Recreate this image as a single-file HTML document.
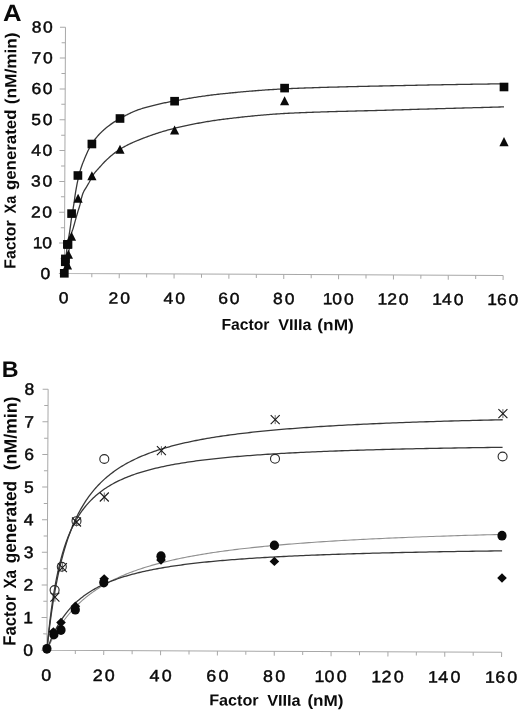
<!DOCTYPE html>
<html><head><meta charset="utf-8"><title>Figure</title>
<style>html,body{margin:0;padding:0;background:#fff;}svg{display:block;filter:blur(0.35px);}</style>
</head><body>
<svg width="520" height="710" viewBox="0 0 520 710" font-family="'Liberation Sans', sans-serif" text-rendering="geometricPrecision" fill="#0a0a0a">
<rect width="520" height="710" fill="#fff"/>
<g transform="rotate(0.25 64.4 273.9)">
<g stroke="#a8a8a8" stroke-width="1" fill="none">
<path d="M64.40 27.26 L64.40 273.50 L503.12 273.50"/>
<path d="M58.90 273.50 L64.40 273.50"/>
<path d="M58.90 243.07 L64.40 243.07"/>
<path d="M58.90 212.24 L64.40 212.24"/>
<path d="M58.90 181.41 L64.40 181.41"/>
<path d="M58.90 150.58 L64.40 150.58"/>
<path d="M58.90 119.75 L64.40 119.75"/>
<path d="M58.90 88.92 L64.40 88.92"/>
<path d="M58.90 58.09 L64.40 58.09"/>
<path d="M58.90 27.26 L64.40 27.26"/>
<path d="M60.60 258.48 L64.40 258.48"/>
<path d="M60.60 227.65 L64.40 227.65"/>
<path d="M60.60 196.82 L64.40 196.82"/>
<path d="M60.60 165.99 L64.40 165.99"/>
<path d="M60.60 135.16 L64.40 135.16"/>
<path d="M60.60 104.33 L64.40 104.33"/>
<path d="M60.60 73.50 L64.40 73.50"/>
<path d="M60.60 42.67 L64.40 42.67"/>
<path d="M91.82 273.50 L91.82 277.10"/>
<path d="M119.24 273.50 L119.24 278.10"/>
<path d="M146.66 273.50 L146.66 277.10"/>
<path d="M174.08 273.50 L174.08 278.10"/>
<path d="M201.50 273.50 L201.50 277.10"/>
<path d="M228.92 273.50 L228.92 278.10"/>
<path d="M256.34 273.50 L256.34 277.10"/>
<path d="M283.76 273.50 L283.76 278.10"/>
<path d="M311.18 273.50 L311.18 277.10"/>
<path d="M338.60 273.50 L338.60 278.10"/>
<path d="M366.02 273.50 L366.02 277.10"/>
<path d="M393.44 273.50 L393.44 278.10"/>
<path d="M420.86 273.50 L420.86 277.10"/>
<path d="M448.28 273.50 L448.28 278.10"/>
<path d="M475.70 273.50 L475.70 277.10"/>
<path d="M503.12 273.50 L503.12 278.10"/>
</g>
<text transform="translate(49.40 279.20) scale(1.090 1)" x="-8.21" y="0" font-size="16" text-anchor="start" stroke="#0a0a0a" stroke-width="0.45">0</text>
<text transform="translate(51.00 248.37) scale(1.090 1)" x="-16.83 -8.21" y="0" font-size="16" text-anchor="start" stroke="#0a0a0a" stroke-width="0.45">10</text>
<text transform="translate(51.00 217.54) scale(1.090 1)" x="-18.67 -8.21" y="0" font-size="16" text-anchor="start" stroke="#0a0a0a" stroke-width="0.45">20</text>
<text transform="translate(51.00 186.71) scale(1.090 1)" x="-18.67 -8.21" y="0" font-size="16" text-anchor="start" stroke="#0a0a0a" stroke-width="0.45">30</text>
<text transform="translate(51.00 155.88) scale(1.090 1)" x="-18.67 -8.21" y="0" font-size="16" text-anchor="start" stroke="#0a0a0a" stroke-width="0.45">40</text>
<text transform="translate(51.00 125.05) scale(1.090 1)" x="-18.67 -8.21" y="0" font-size="16" text-anchor="start" stroke="#0a0a0a" stroke-width="0.45">50</text>
<text transform="translate(51.00 94.22) scale(1.090 1)" x="-18.67 -8.21" y="0" font-size="16" text-anchor="start" stroke="#0a0a0a" stroke-width="0.45">60</text>
<text transform="translate(51.00 63.39) scale(1.090 1)" x="-18.67 -8.21" y="0" font-size="16" text-anchor="start" stroke="#0a0a0a" stroke-width="0.45">70</text>
<text transform="translate(51.00 32.56) scale(1.090 1)" x="-18.67 -8.21" y="0" font-size="16" text-anchor="start" stroke="#0a0a0a" stroke-width="0.45">80</text>
<text transform="translate(63.60 303.20) scale(1.090 1)" x="-4.45" y="0" font-size="16" text-anchor="start" stroke="#0a0a0a" stroke-width="0.45">0</text>
<text transform="translate(119.24 303.20) scale(1.090 1)" x="-9.71 1.02" y="0" font-size="16" text-anchor="start" stroke="#0a0a0a" stroke-width="0.45">20</text>
<text transform="translate(174.08 303.20) scale(1.090 1)" x="-9.63 1.10" y="0" font-size="16" text-anchor="start" stroke="#0a0a0a" stroke-width="0.45">40</text>
<text transform="translate(228.92 303.20) scale(1.090 1)" x="-9.79 0.94" y="0" font-size="16" text-anchor="start" stroke="#0a0a0a" stroke-width="0.45">60</text>
<text transform="translate(283.76 303.20) scale(1.090 1)" x="-9.79 0.94" y="0" font-size="16" text-anchor="start" stroke="#0a0a0a" stroke-width="0.45">80</text>
<text transform="translate(338.90 303.20) scale(1.090 1)" x="-14.79 -5.89 4.84" y="0" font-size="16" text-anchor="start" stroke="#0a0a0a" stroke-width="0.45">100</text>
<text transform="translate(393.74 303.20) scale(1.090 1)" x="-14.79 -5.89 4.84" y="0" font-size="16" text-anchor="start" stroke="#0a0a0a" stroke-width="0.45">120</text>
<text transform="translate(448.58 303.20) scale(1.090 1)" x="-14.79 -5.89 4.84" y="0" font-size="16" text-anchor="start" stroke="#0a0a0a" stroke-width="0.45">140</text>
<text transform="translate(503.42 303.20) scale(1.090 1)" x="-14.79 -5.89 4.84" y="0" font-size="16" text-anchor="start" stroke="#0a0a0a" stroke-width="0.45">160</text>
<text y="329.0" font-size="15.8" font-weight="bold" text-anchor="start"><tspan x="221.70" textLength="48.00" lengthAdjust="spacingAndGlyphs">Factor</tspan> <tspan x="278.50" textLength="33.20" lengthAdjust="spacingAndGlyphs">VIIIa</tspan> <tspan x="317.60" textLength="36.40" lengthAdjust="spacingAndGlyphs">(nM)</tspan></text>
<text transform="translate(15.4 0) rotate(-90)" y="0" font-size="16.2" font-weight="bold" text-anchor="start"><tspan x="-268.88" textLength="48.21" lengthAdjust="spacingAndGlyphs">Factor</tspan> <tspan x="-213.69" textLength="17.68" lengthAdjust="spacingAndGlyphs">Xa</tspan> <tspan x="-190.25" textLength="80.50" lengthAdjust="spacingAndGlyphs">generated</tspan> <tspan x="-104.43" textLength="71.77" lengthAdjust="spacingAndGlyphs">(nM/min)</tspan></text>
</g>
<path d="M64.40 273.50 L64.40 273.47 L64.41 273.37 L64.42 273.21 L64.44 272.99 L64.47 272.71 L64.50 272.36 L64.54 271.95 L64.58 271.49 L64.62 270.96 L64.68 270.37 L64.73 269.73 L64.80 269.03 L64.87 268.27 L64.94 267.46 L65.02 266.60 L65.11 265.69 L65.20 264.74 L65.29 263.74 L65.40 262.69 L65.50 261.60 L65.62 260.48 L65.74 259.32 L65.86 258.12 L65.99 256.90 L66.13 255.65 L66.27 254.38 L66.41 253.08 L66.56 251.77 L66.72 250.44 L66.89 249.11 L67.05 247.77 L67.23 246.43 L67.41 245.09 L67.59 243.75 L67.78 242.44 L67.98 241.19 L68.18 240.00 L68.39 238.84 L68.60 237.70 L68.82 236.55 L69.04 235.36 L69.27 234.07 L69.51 232.66 L69.75 231.12 L69.99 229.46 L70.24 227.71 L70.50 225.81 L70.76 223.74 L71.03 221.58 L71.30 219.48 L71.58 217.56 L71.87 215.81 L72.16 214.16 L72.45 212.53 L72.75 210.85 L73.06 209.04 L73.37 207.14 L73.69 205.15 L74.01 203.08 L74.34 200.85 L74.67 198.44 L75.01 195.96 L75.36 193.59 L75.71 191.43 L76.07 189.35 L76.43 187.34 L76.80 185.38 L77.17 183.47 L77.55 181.61 L77.93 179.79 L78.32 177.98 L78.71 176.22 L79.11 174.53 L79.52 172.92 L79.93 171.44 L80.35 170.07 L80.77 168.77 L81.20 167.53 L81.63 166.31 L82.07 165.08 L82.52 163.83 L82.97 162.63 L83.42 161.51 L83.88 160.38 L84.35 159.24 L84.82 158.10 L85.30 156.96 L85.78 155.82 L86.27 154.68 L86.77 153.55 L87.27 152.43 L87.77 151.32 L88.28 150.24 L88.80 149.17 L89.32 148.13 L89.85 147.12 L90.38 146.14 L90.92 145.21 L91.46 144.32 L92.01 143.48 L92.57 142.66 L93.13 141.85 L93.69 141.06 L94.27 140.28 L94.84 139.52 L95.43 138.77 L96.01 138.03 L96.61 137.31 L97.21 136.60 L97.81 135.91 L98.42 135.22 L99.04 134.55 L99.66 133.89 L100.29 133.25 L100.92 132.61 L101.56 131.99 L102.20 131.37 L102.85 130.77 L103.50 130.17 L104.16 129.58 L104.83 129.00 L105.50 128.43 L106.18 127.86 L106.86 127.31 L107.55 126.76 L108.24 126.21 L108.94 125.68 L109.64 125.15 L110.35 124.63 L111.07 124.12 L111.79 123.61 L112.51 123.11 L113.24 122.62 L113.98 122.13 L114.72 121.65 L115.47 121.18 L116.23 120.71 L116.99 120.25 L117.75 119.80 L118.52 119.34 L119.30 118.90 L120.08 118.46 L120.87 118.02 L121.66 117.58 L122.46 117.14 L123.26 116.70 L124.07 116.27 L124.88 115.83 L125.70 115.40 L126.53 114.98 L127.36 114.55 L128.20 114.14 L129.04 113.72 L129.89 113.31 L130.74 112.91 L131.60 112.51 L132.46 112.13 L133.33 111.74 L134.21 111.37 L135.09 111.01 L135.98 110.65 L136.87 110.31 L137.76 109.97 L138.67 109.65 L139.58 109.34 L140.49 109.04 L141.41 108.75 L142.33 108.46 L143.27 108.17 L144.20 107.89 L145.14 107.61 L146.09 107.34 L147.04 107.07 L148.00 106.80 L148.96 106.53 L149.93 106.27 L150.91 106.02 L151.89 105.76 L152.87 105.51 L153.87 105.27 L154.86 105.02 L155.86 104.78 L156.87 104.55 L157.89 104.31 L158.91 104.08 L159.93 103.85 L160.96 103.62 L162.00 103.40 L163.04 103.18 L164.08 102.96 L165.13 102.74 L166.19 102.52 L167.26 102.31 L168.32 102.10 L169.40 101.89 L170.48 101.68 L171.56 101.47 L172.65 101.26 L173.75 101.06 L174.85 100.85 L175.96 100.65 L177.07 100.44 L178.19 100.24 L179.31 100.04 L180.44 99.83 L181.58 99.63 L182.72 99.43 L183.86 99.23 L185.02 99.03 L186.17 98.83 L187.34 98.64 L188.50 98.44 L189.68 98.25 L190.86 98.05 L192.04 97.86 L193.23 97.67 L194.43 97.48 L195.63 97.29 L196.83 97.10 L198.05 96.92 L199.26 96.73 L200.49 96.55 L201.72 96.37 L202.95 96.19 L204.19 96.02 L205.44 95.85 L206.69 95.67 L207.94 95.50 L209.20 95.34 L210.47 95.17 L211.75 95.01 L213.02 94.85 L214.31 94.70 L215.60 94.54 L216.89 94.39 L218.19 94.24 L219.50 94.10 L220.81 93.96 L222.13 93.82 L223.45 93.68 L224.78 93.55 L226.11 93.41 L227.45 93.28 L228.80 93.14 L230.15 93.01 L231.50 92.87 L232.86 92.74 L234.23 92.61 L235.60 92.48 L236.98 92.35 L238.36 92.22 L239.75 92.09 L241.15 91.96 L242.55 91.84 L243.95 91.71 L245.36 91.58 L246.78 91.46 L248.20 91.34 L249.63 91.22 L251.06 91.10 L252.50 90.98 L253.95 90.86 L255.40 90.74 L256.85 90.63 L258.31 90.52 L259.78 90.40 L261.25 90.29 L262.73 90.19 L264.21 90.08 L265.70 89.97 L267.19 89.87 L268.69 89.77 L270.20 89.67 L271.71 89.57 L273.22 89.48 L274.74 89.39 L276.27 89.29 L277.80 89.21 L279.34 89.12 L280.89 89.04 L282.43 88.96 L283.99 88.88 L285.55 88.80 L287.11 88.73 L288.69 88.66 L290.26 88.59 L291.84 88.52 L293.43 88.46 L295.03 88.39 L296.62 88.33 L298.23 88.27 L299.84 88.20 L301.45 88.14 L303.07 88.08 L304.70 88.02 L306.33 87.97 L307.97 87.91 L309.61 87.85 L311.26 87.79 L312.92 87.74 L314.58 87.68 L316.24 87.63 L317.91 87.58 L319.59 87.52 L321.27 87.47 L322.96 87.42 L324.65 87.37 L326.35 87.32 L328.05 87.27 L329.76 87.22 L331.47 87.17 L333.19 87.12 L334.92 87.08 L336.65 87.03 L338.39 86.98 L340.13 86.94 L341.88 86.89 L343.63 86.85 L345.39 86.80 L347.16 86.76 L348.93 86.72 L350.70 86.67 L352.48 86.63 L354.27 86.59 L356.06 86.55 L357.86 86.51 L359.66 86.46 L361.47 86.42 L363.28 86.38 L365.10 86.34 L366.93 86.30 L368.76 86.26 L370.60 86.22 L372.44 86.18 L374.29 86.14 L376.14 86.10 L378.00 86.06 L379.86 86.02 L381.73 85.98 L383.61 85.94 L385.49 85.90 L387.37 85.86 L389.26 85.82 L391.16 85.77 L393.06 85.73 L394.97 85.69 L396.88 85.65 L398.80 85.61 L400.73 85.57 L402.66 85.53 L404.59 85.49 L406.53 85.45 L408.48 85.41 L410.43 85.37 L412.39 85.33 L414.35 85.29 L416.32 85.25 L418.30 85.21 L420.28 85.17 L422.26 85.13 L424.25 85.09 L426.25 85.05 L428.25 85.01 L430.26 84.97 L432.27 84.93 L434.29 84.90 L436.32 84.86 L438.34 84.82 L440.38 84.78 L442.42 84.74 L444.47 84.71 L446.52 84.67 L448.58 84.63 L450.64 84.60 L452.71 84.56 L454.78 84.53 L456.86 84.49 L458.94 84.45 L461.03 84.42 L463.13 84.38 L465.23 84.35 L467.34 84.32 L469.45 84.28 L471.57 84.25 L473.69 84.22 L475.82 84.18 L477.96 84.15 L480.10 84.12 L482.24 84.09 L484.39 84.06 L486.55 84.03 L488.71 84.00 L490.88 83.97 L493.05 83.94 L495.23 83.91 L497.41 83.88 L499.60 83.85 L501.80 83.83 L504.00 83.80" fill="none" stroke="#383838" stroke-width="1.3" stroke-linejoin="round"/>
<path d="M64.40 273.50 L64.40 273.49 L64.41 273.47 L64.42 273.43 L64.44 273.38 L64.47 273.31 L64.50 273.23 L64.54 273.12 L64.58 273.00 L64.62 272.87 L64.68 272.71 L64.73 272.53 L64.80 272.33 L64.87 272.11 L64.94 271.86 L65.02 271.59 L65.11 271.29 L65.20 270.96 L65.29 270.60 L65.40 270.21 L65.50 269.79 L65.62 269.34 L65.74 268.86 L65.86 268.33 L65.99 267.78 L66.13 267.18 L66.27 266.55 L66.41 265.88 L66.56 265.17 L66.72 264.40 L66.89 263.55 L67.05 262.62 L67.23 261.60 L67.41 260.51 L67.59 259.35 L67.78 258.13 L67.98 256.87 L68.18 255.58 L68.39 254.28 L68.60 252.93 L68.82 251.47 L69.04 249.91 L69.27 248.27 L69.51 246.56 L69.75 244.80 L69.99 243.01 L70.24 241.21 L70.50 239.44 L70.76 237.71 L71.03 236.07 L71.30 234.55 L71.58 233.20 L71.87 232.06 L72.16 231.13 L72.45 230.32 L72.75 229.53 L73.06 228.61 L73.37 227.56 L73.69 226.44 L74.01 225.27 L74.34 224.07 L74.67 222.87 L75.01 221.63 L75.36 220.37 L75.71 219.09 L76.07 217.82 L76.43 216.55 L76.80 215.28 L77.17 214.00 L77.55 212.72 L77.93 211.43 L78.32 210.16 L78.71 208.93 L79.11 207.69 L79.52 206.36 L79.93 204.88 L80.35 203.08 L80.77 201.08 L81.20 199.19 L81.63 197.56 L82.07 196.01 L82.52 194.56 L82.97 193.27 L83.42 192.20 L83.88 191.27 L84.35 190.44 L84.82 189.66 L85.30 188.92 L85.78 188.16 L86.27 187.35 L86.77 186.49 L87.27 185.64 L87.77 184.78 L88.28 183.90 L88.80 183.00 L89.32 182.05 L89.85 181.02 L90.38 179.89 L90.92 178.74 L91.46 177.63 L92.01 176.64 L92.57 175.78 L93.13 174.96 L93.69 174.16 L94.27 173.40 L94.84 172.66 L95.43 171.94 L96.01 171.24 L96.61 170.56 L97.21 169.89 L97.81 169.23 L98.42 168.57 L99.04 167.91 L99.66 167.24 L100.29 166.57 L100.92 165.88 L101.56 165.16 L102.20 164.43 L102.85 163.68 L103.50 162.95 L104.16 162.24 L104.83 161.58 L105.50 160.93 L106.18 160.29 L106.86 159.64 L107.55 159.00 L108.24 158.36 L108.94 157.73 L109.64 157.10 L110.35 156.47 L111.07 155.86 L111.79 155.24 L112.51 154.64 L113.24 154.04 L113.98 153.45 L114.72 152.87 L115.47 152.30 L116.23 151.74 L116.99 151.20 L117.75 150.67 L118.52 150.15 L119.30 149.64 L120.08 149.15 L120.87 148.67 L121.66 148.20 L122.46 147.74 L123.26 147.28 L124.07 146.83 L124.88 146.39 L125.70 145.95 L126.53 145.52 L127.36 145.09 L128.20 144.67 L129.04 144.26 L129.89 143.85 L130.74 143.45 L131.60 143.05 L132.46 142.66 L133.33 142.27 L134.21 141.89 L135.09 141.51 L135.98 141.14 L136.87 140.77 L137.76 140.40 L138.67 140.03 L139.58 139.67 L140.49 139.31 L141.41 138.95 L142.33 138.59 L143.27 138.23 L144.20 137.87 L145.14 137.51 L146.09 137.16 L147.04 136.81 L148.00 136.45 L148.96 136.10 L149.93 135.75 L150.91 135.41 L151.89 135.06 L152.87 134.72 L153.87 134.38 L154.86 134.04 L155.86 133.70 L156.87 133.37 L157.89 133.04 L158.91 132.71 L159.93 132.39 L160.96 132.06 L162.00 131.75 L163.04 131.43 L164.08 131.12 L165.13 130.81 L166.19 130.51 L167.26 130.21 L168.32 129.91 L169.40 129.62 L170.48 129.34 L171.56 129.05 L172.65 128.78 L173.75 128.51 L174.85 128.24 L175.96 127.98 L177.07 127.71 L178.19 127.45 L179.31 127.19 L180.44 126.93 L181.58 126.67 L182.72 126.42 L183.86 126.16 L185.02 125.91 L186.17 125.65 L187.34 125.40 L188.50 125.16 L189.68 124.91 L190.86 124.66 L192.04 124.42 L193.23 124.18 L194.43 123.94 L195.63 123.71 L196.83 123.47 L198.05 123.24 L199.26 123.01 L200.49 122.79 L201.72 122.56 L202.95 122.34 L204.19 122.12 L205.44 121.91 L206.69 121.70 L207.94 121.49 L209.20 121.28 L210.47 121.08 L211.75 120.88 L213.02 120.68 L214.31 120.49 L215.60 120.30 L216.89 120.12 L218.19 119.94 L219.50 119.76 L220.81 119.59 L222.13 119.42 L223.45 119.26 L224.78 119.09 L226.11 118.93 L227.45 118.76 L228.80 118.60 L230.15 118.44 L231.50 118.28 L232.86 118.12 L234.23 117.96 L235.60 117.80 L236.98 117.64 L238.36 117.49 L239.75 117.33 L241.15 117.18 L242.55 117.02 L243.95 116.87 L245.36 116.72 L246.78 116.57 L248.20 116.43 L249.63 116.28 L251.06 116.14 L252.50 115.99 L253.95 115.85 L255.40 115.72 L256.85 115.58 L258.31 115.44 L259.78 115.31 L261.25 115.18 L262.73 115.05 L264.21 114.92 L265.70 114.80 L267.19 114.68 L268.69 114.56 L270.20 114.44 L271.71 114.33 L273.22 114.22 L274.74 114.11 L276.27 114.00 L277.80 113.90 L279.34 113.80 L280.89 113.70 L282.43 113.61 L283.99 113.52 L285.55 113.43 L287.11 113.34 L288.69 113.26 L290.26 113.19 L291.84 113.11 L293.43 113.04 L295.03 112.97 L296.62 112.90 L298.23 112.83 L299.84 112.76 L301.45 112.69 L303.07 112.63 L304.70 112.56 L306.33 112.50 L307.97 112.44 L309.61 112.37 L311.26 112.31 L312.92 112.25 L314.58 112.20 L316.24 112.14 L317.91 112.08 L319.59 112.03 L321.27 111.97 L322.96 111.92 L324.65 111.86 L326.35 111.81 L328.05 111.76 L329.76 111.71 L331.47 111.66 L333.19 111.61 L334.92 111.56 L336.65 111.51 L338.39 111.46 L340.13 111.42 L341.88 111.37 L343.63 111.32 L345.39 111.28 L347.16 111.23 L348.93 111.18 L350.70 111.14 L352.48 111.09 L354.27 111.05 L356.06 111.00 L357.86 110.96 L359.66 110.91 L361.47 110.86 L363.28 110.82 L365.10 110.77 L366.93 110.73 L368.76 110.68 L370.60 110.63 L372.44 110.58 L374.29 110.54 L376.14 110.49 L378.00 110.44 L379.86 110.39 L381.73 110.34 L383.61 110.28 L385.49 110.23 L387.37 110.18 L389.26 110.12 L391.16 110.07 L393.06 110.01 L394.97 109.95 L396.88 109.90 L398.80 109.84 L400.73 109.78 L402.66 109.73 L404.59 109.67 L406.53 109.62 L408.48 109.56 L410.43 109.50 L412.39 109.45 L414.35 109.39 L416.32 109.33 L418.30 109.27 L420.28 109.22 L422.26 109.16 L424.25 109.10 L426.25 109.05 L428.25 108.99 L430.26 108.93 L432.27 108.87 L434.29 108.82 L436.32 108.76 L438.34 108.70 L440.38 108.64 L442.42 108.59 L444.47 108.53 L446.52 108.47 L448.58 108.41 L450.64 108.36 L452.71 108.30 L454.78 108.24 L456.86 108.18 L458.94 108.12 L461.03 108.07 L463.13 108.01 L465.23 107.95 L467.34 107.89 L469.45 107.83 L471.57 107.78 L473.69 107.72 L475.82 107.66 L477.96 107.60 L480.10 107.54 L482.24 107.48 L484.39 107.43 L486.55 107.37 L488.71 107.31 L490.88 107.25 L493.05 107.19 L495.23 107.13 L497.41 107.08 L499.60 107.02 L501.80 106.96 L504.00 106.90" fill="none" stroke="#383838" stroke-width="1.3" stroke-linejoin="round"/>
<text x="3.0" y="20.8" font-size="23.5" text-anchor="start" font-weight="bold" textLength="18.6" lengthAdjust="spacingAndGlyphs">A</text>
<rect x="59.95" y="269.00" width="8.70" height="8.60" fill="#0a0a0a"/>
<rect x="61.05" y="254.60" width="8.70" height="8.60" fill="#0a0a0a"/>
<rect x="60.95" y="257.50" width="8.70" height="8.60" fill="#0a0a0a"/>
<rect x="63.05" y="240.10" width="8.70" height="8.60" fill="#0a0a0a"/>
<rect x="63.65" y="240.10" width="8.70" height="8.60" fill="#0a0a0a"/>
<rect x="67.25" y="209.30" width="8.70" height="8.60" fill="#0a0a0a"/>
<rect x="73.55" y="171.20" width="8.70" height="8.60" fill="#0a0a0a"/>
<rect x="87.55" y="139.70" width="8.70" height="8.60" fill="#0a0a0a"/>
<rect x="115.65" y="114.20" width="8.70" height="8.60" fill="#0a0a0a"/>
<rect x="170.25" y="96.90" width="8.70" height="8.60" fill="#0a0a0a"/>
<rect x="280.25" y="83.80" width="8.70" height="8.60" fill="#0a0a0a"/>
<rect x="499.65" y="82.70" width="8.70" height="8.60" fill="#0a0a0a"/>
<path d="M67.50 260.45 L72.10 269.55 L62.90 269.55 Z" fill="#0a0a0a"/>
<path d="M68.40 249.65 L73.00 258.75 L63.80 258.75 Z" fill="#0a0a0a"/>
<path d="M71.50 231.75 L76.10 240.85 L66.90 240.85 Z" fill="#0a0a0a"/>
<path d="M78.10 193.65 L82.70 202.75 L73.50 202.75 Z" fill="#0a0a0a"/>
<path d="M91.90 171.25 L96.50 180.35 L87.30 180.35 Z" fill="#0a0a0a"/>
<path d="M120.00 144.65 L124.60 153.75 L115.40 153.75 Z" fill="#0a0a0a"/>
<path d="M174.60 125.45 L179.20 134.55 L170.00 134.55 Z" fill="#0a0a0a"/>
<path d="M284.60 96.25 L289.20 105.35 L280.00 105.35 Z" fill="#0a0a0a"/>
<path d="M504.00 137.05 L508.60 146.15 L499.40 146.15 Z" fill="#0a0a0a"/>
<g transform="rotate(0.27 46.9 650.2)">
<g stroke="#a8a8a8" stroke-width="1" fill="none">
<path d="M46.90 389.24 L46.90 650.20 L501.62 650.20"/>
<path d="M41.40 650.20 L46.90 650.20"/>
<path d="M41.40 617.58 L46.90 617.58"/>
<path d="M41.40 584.96 L46.90 584.96"/>
<path d="M41.40 552.34 L46.90 552.34"/>
<path d="M41.40 519.72 L46.90 519.72"/>
<path d="M41.40 487.10 L46.90 487.10"/>
<path d="M41.40 454.48 L46.90 454.48"/>
<path d="M41.40 421.86 L46.90 421.86"/>
<path d="M41.40 389.24 L46.90 389.24"/>
<path d="M43.10 633.89 L46.90 633.89"/>
<path d="M43.10 601.27 L46.90 601.27"/>
<path d="M43.10 568.65 L46.90 568.65"/>
<path d="M43.10 536.03 L46.90 536.03"/>
<path d="M43.10 503.41 L46.90 503.41"/>
<path d="M43.10 470.79 L46.90 470.79"/>
<path d="M43.10 438.17 L46.90 438.17"/>
<path d="M43.10 405.55 L46.90 405.55"/>
<path d="M75.32 650.20 L75.32 653.80"/>
<path d="M103.74 650.20 L103.74 654.80"/>
<path d="M132.16 650.20 L132.16 653.80"/>
<path d="M160.58 650.20 L160.58 654.80"/>
<path d="M189.00 650.20 L189.00 653.80"/>
<path d="M217.42 650.20 L217.42 654.80"/>
<path d="M245.84 650.20 L245.84 653.80"/>
<path d="M274.26 650.20 L274.26 654.80"/>
<path d="M302.68 650.20 L302.68 653.80"/>
<path d="M331.10 650.20 L331.10 654.80"/>
<path d="M359.52 650.20 L359.52 653.80"/>
<path d="M387.94 650.20 L387.94 654.80"/>
<path d="M416.36 650.20 L416.36 653.80"/>
<path d="M444.78 650.20 L444.78 654.80"/>
<path d="M473.20 650.20 L473.20 653.80"/>
<path d="M501.62 650.20 L501.62 654.80"/>
</g>
<text transform="translate(32.20 655.90) scale(1.060 1)" x="-8.46" y="0" font-size="16.5" text-anchor="start" stroke="#0a0a0a" stroke-width="0.45">0</text>
<text transform="translate(32.20 623.28) scale(1.060 1)" x="-8.46" y="0" font-size="16.5" text-anchor="start" stroke="#0a0a0a" stroke-width="0.45">1</text>
<text transform="translate(32.20 590.66) scale(1.060 1)" x="-8.46" y="0" font-size="16.5" text-anchor="start" stroke="#0a0a0a" stroke-width="0.45">2</text>
<text transform="translate(32.20 558.04) scale(1.060 1)" x="-8.46" y="0" font-size="16.5" text-anchor="start" stroke="#0a0a0a" stroke-width="0.45">3</text>
<text transform="translate(32.20 525.42) scale(1.060 1)" x="-8.46" y="0" font-size="16.5" text-anchor="start" stroke="#0a0a0a" stroke-width="0.45">4</text>
<text transform="translate(32.20 492.80) scale(1.060 1)" x="-8.46" y="0" font-size="16.5" text-anchor="start" stroke="#0a0a0a" stroke-width="0.45">5</text>
<text transform="translate(32.20 460.18) scale(1.060 1)" x="-8.46" y="0" font-size="16.5" text-anchor="start" stroke="#0a0a0a" stroke-width="0.45">6</text>
<text transform="translate(32.20 427.56) scale(1.060 1)" x="-8.46" y="0" font-size="16.5" text-anchor="start" stroke="#0a0a0a" stroke-width="0.45">7</text>
<text transform="translate(32.20 394.94) scale(1.060 1)" x="-8.46" y="0" font-size="16.5" text-anchor="start" stroke="#0a0a0a" stroke-width="0.45">8</text>
<text transform="translate(46.40 680.70) scale(1.080 1)" x="-4.59" y="0" font-size="16.5" text-anchor="start" stroke="#0a0a0a" stroke-width="0.45">0</text>
<text transform="translate(103.74 680.70) scale(1.080 1)" x="-10.13 1.17" y="0" font-size="16.5" text-anchor="start" stroke="#0a0a0a" stroke-width="0.45">20</text>
<text transform="translate(160.58 680.70) scale(1.080 1)" x="-10.05 1.25" y="0" font-size="16.5" text-anchor="start" stroke="#0a0a0a" stroke-width="0.45">40</text>
<text transform="translate(217.42 680.70) scale(1.080 1)" x="-10.21 1.09" y="0" font-size="16.5" text-anchor="start" stroke="#0a0a0a" stroke-width="0.45">60</text>
<text transform="translate(274.26 680.70) scale(1.080 1)" x="-10.21 1.09" y="0" font-size="16.5" text-anchor="start" stroke="#0a0a0a" stroke-width="0.45">80</text>
<text transform="translate(331.30 680.70) scale(1.080 1)" x="-15.50 -6.06 5.24" y="0" font-size="16.5" text-anchor="start" stroke="#0a0a0a" stroke-width="0.45">100</text>
<text transform="translate(388.14 680.70) scale(1.080 1)" x="-15.50 -6.06 5.24" y="0" font-size="16.5" text-anchor="start" stroke="#0a0a0a" stroke-width="0.45">120</text>
<text transform="translate(444.98 680.70) scale(1.080 1)" x="-15.50 -6.06 5.24" y="0" font-size="16.5" text-anchor="start" stroke="#0a0a0a" stroke-width="0.45">140</text>
<text transform="translate(501.82 680.70) scale(1.080 1)" x="-15.50 -6.06 5.24" y="0" font-size="16.5" text-anchor="start" stroke="#0a0a0a" stroke-width="0.45">160</text>
<text y="704.6" font-size="15.8" font-weight="bold" text-anchor="start"><tspan x="209.50" textLength="49.40" lengthAdjust="spacingAndGlyphs">Factor</tspan> <tspan x="267.40" textLength="33.50" lengthAdjust="spacingAndGlyphs">VIIIa</tspan> <tspan x="307.70" textLength="36.10" lengthAdjust="spacingAndGlyphs">(nM)</tspan></text>
<text transform="translate(15.6 0) rotate(-90)" y="0" font-size="17.8" font-weight="bold" text-anchor="start"><tspan x="-645.90" textLength="50.86" lengthAdjust="spacingAndGlyphs">Factor</tspan> <tspan x="-588.71" textLength="18.45" lengthAdjust="spacingAndGlyphs">Xa</tspan> <tspan x="-563.41" textLength="82.27" lengthAdjust="spacingAndGlyphs">generated</tspan> <tspan x="-470.45" textLength="73.69" lengthAdjust="spacingAndGlyphs">(nM/min)</tspan></text>
<path d="M46.90 650.20 L46.91 650.12 L46.93 649.88 L46.97 649.49 L47.03 648.94 L47.10 648.24 L47.18 647.38 L47.29 646.38 L47.41 645.24 L47.54 643.95 L47.69 642.53 L47.86 640.98 L48.04 639.31 L48.23 637.51 L48.45 635.61 L48.68 633.59 L48.92 631.48 L49.18 629.27 L49.46 626.98 L49.75 624.61 L50.06 622.16 L50.38 619.64 L50.72 617.06 L51.08 614.43 L51.45 611.75 L51.83 609.03 L52.24 606.27 L52.66 603.49 L53.09 600.67 L53.54 597.84 L54.00 595.00 L54.49 592.14 L54.98 589.28 L55.50 586.42 L56.03 583.56 L56.57 580.71 L57.13 577.87 L57.71 575.05 L58.30 572.24 L58.91 569.46 L59.53 566.69 L60.17 563.95 L60.83 561.24 L61.50 558.55 L62.18 555.90 L62.89 553.28 L63.60 550.69 L64.34 548.14 L65.09 545.62 L65.85 543.14 L66.64 540.70 L67.43 538.30 L68.25 535.93 L69.08 533.61 L69.92 531.32 L70.78 529.07 L71.66 526.86 L72.55 524.69 L73.46 522.57 L74.38 520.48 L75.32 518.43 L76.28 516.41 L77.25 514.44 L78.23 512.51 L79.24 510.61 L80.25 508.75 L81.29 506.93 L82.34 505.14 L83.40 503.39 L84.49 501.68 L85.58 500.00 L86.70 498.36 L87.82 496.75 L88.97 495.17 L90.13 493.62 L91.31 492.11 L92.50 490.63 L93.71 489.18 L94.93 487.76 L96.17 486.37 L97.42 485.01 L98.70 483.68 L99.98 482.37 L101.28 481.10 L102.60 479.85 L103.94 478.62 L105.29 477.42 L106.65 476.25 L108.03 475.10 L109.43 473.98 L110.84 472.88 L112.27 471.80 L113.72 470.74 L115.18 469.71 L116.66 468.70 L118.15 467.70 L119.66 466.73 L121.18 465.78 L122.72 464.85 L124.27 463.94 L125.84 463.04 L127.43 462.17 L129.03 461.31 L130.65 460.47 L132.29 459.64 L133.94 458.84 L135.60 458.05 L137.28 457.27 L138.98 456.51 L140.69 455.77 L142.42 455.03 L144.17 454.32 L145.93 453.62 L147.70 452.93 L149.50 452.25 L151.30 451.59 L153.13 450.94 L154.97 450.31 L156.82 449.68 L158.69 449.07 L160.58 448.47 L162.48 447.88 L164.40 447.30 L166.34 446.74 L168.28 446.18 L170.25 445.63 L172.23 445.10 L174.23 444.57 L176.24 444.05 L178.27 443.55 L180.32 443.05 L182.38 442.56 L184.45 442.08 L186.54 441.61 L188.65 441.14 L190.78 440.69 L192.92 440.24 L195.07 439.80 L197.24 439.37 L199.43 438.95 L201.63 438.53 L203.85 438.12 L206.08 437.72 L208.33 437.33 L210.60 436.94 L212.88 436.56 L215.18 436.18 L217.49 435.81 L219.82 435.45 L222.16 435.10 L224.53 434.75 L226.90 434.40 L229.29 434.06 L231.70 433.73 L234.12 433.40 L236.56 433.08 L239.02 432.76 L241.49 432.45 L243.98 432.14 L246.48 431.84 L249.00 431.54 L251.53 431.25 L254.08 430.96 L256.65 430.68 L259.23 430.40 L261.83 430.13 L264.44 429.85 L267.07 429.59 L269.71 429.33 L272.37 429.07 L275.05 428.82 L277.74 428.56 L280.45 428.32 L283.17 428.08 L285.91 427.84 L288.67 427.60 L291.44 427.37 L294.23 427.14 L297.03 426.92 L299.85 426.69 L302.68 426.48 L305.53 426.26 L308.40 426.05 L311.28 425.84 L314.17 425.63 L317.09 425.43 L320.02 425.23 L322.96 425.03 L325.92 424.84 L328.90 424.65 L331.89 424.46 L334.90 424.27 L337.92 424.09 L340.96 423.91 L344.02 423.73 L347.09 423.55 L350.17 423.38 L353.28 423.21 L356.39 423.04 L359.53 422.87 L362.68 422.71 L365.84 422.54 L369.02 422.38 L372.22 422.23 L375.44 422.07 L378.66 421.92 L381.91 421.76 L385.17 421.61 L388.45 421.47 L391.74 421.32 L395.04 421.18 L398.37 421.03 L401.71 420.89 L405.06 420.76 L408.43 420.62 L411.82 420.48 L415.22 420.35 L418.64 420.22 L422.08 420.09 L425.53 419.96 L428.99 419.83 L432.47 419.71 L435.97 419.59 L439.48 419.46 L443.01 419.34 L446.56 419.22 L450.12 419.11 L453.69 418.99 L457.28 418.88 L460.89 418.76 L464.52 418.65 L468.16 418.54 L471.81 418.43 L475.48 418.32 L479.17 418.22 L482.87 418.11 L486.59 418.01 L490.32 417.90 L494.07 417.80 L497.84 417.70 L501.62 417.60" fill="none" stroke="#383838" stroke-width="1.3"/>
<path d="M46.90 650.20 L46.91 650.11 L46.93 649.83 L46.97 649.37 L47.03 648.73 L47.10 647.91 L47.18 646.92 L47.29 645.77 L47.41 644.44 L47.54 642.97 L47.69 641.34 L47.86 639.57 L48.04 637.67 L48.23 635.65 L48.45 633.50 L48.68 631.25 L48.92 628.90 L49.18 626.46 L49.46 623.94 L49.75 621.35 L50.06 618.69 L50.38 615.98 L50.72 613.22 L51.08 610.43 L51.45 607.60 L51.83 604.75 L52.24 601.88 L52.66 599.00 L53.09 596.12 L53.54 593.24 L54.00 590.36 L54.49 587.50 L54.98 584.65 L55.50 581.82 L56.03 579.02 L56.57 576.25 L57.13 573.50 L57.71 570.79 L58.30 568.11 L58.91 565.47 L59.53 562.88 L60.17 560.32 L60.83 557.80 L61.50 555.33 L62.18 552.90 L62.89 550.52 L63.60 548.18 L64.34 545.89 L65.09 543.65 L65.85 541.45 L66.64 539.30 L67.43 537.19 L68.25 535.13 L69.08 533.12 L69.92 531.15 L70.78 529.22 L71.66 527.34 L72.55 525.50 L73.46 523.70 L74.38 521.95 L75.32 520.24 L76.28 518.57 L77.25 516.93 L78.23 515.34 L79.24 513.79 L80.25 512.27 L81.29 510.79 L82.34 509.34 L83.40 507.93 L84.49 506.56 L85.58 505.21 L86.70 503.90 L87.82 502.62 L88.97 501.38 L90.13 500.16 L91.31 498.97 L92.50 497.81 L93.71 496.68 L94.93 495.58 L96.17 494.50 L97.42 493.45 L98.70 492.42 L99.98 491.42 L101.28 490.45 L102.60 489.49 L103.94 488.56 L105.29 487.65 L106.65 486.76 L108.03 485.89 L109.43 485.05 L110.84 484.22 L112.27 483.41 L113.72 482.62 L115.18 481.85 L116.66 481.10 L118.15 480.36 L119.66 479.64 L121.18 478.94 L122.72 478.25 L124.27 477.58 L125.84 476.92 L127.43 476.28 L129.03 475.65 L130.65 475.03 L132.29 474.43 L133.94 473.84 L135.60 473.27 L137.28 472.71 L138.98 472.16 L140.69 471.62 L142.42 471.09 L144.17 470.57 L145.93 470.07 L147.70 469.57 L149.50 469.09 L151.30 468.62 L153.13 468.15 L154.97 467.70 L156.82 467.25 L158.69 466.82 L160.58 466.39 L162.48 465.97 L164.40 465.56 L166.34 465.16 L168.28 464.76 L170.25 464.38 L172.23 464.00 L174.23 463.63 L176.24 463.26 L178.27 462.90 L180.32 462.55 L182.38 462.21 L184.45 461.87 L186.54 461.54 L188.65 461.22 L190.78 460.90 L192.92 460.59 L195.07 460.28 L197.24 459.98 L199.43 459.69 L201.63 459.40 L203.85 459.11 L206.08 458.83 L208.33 458.56 L210.60 458.29 L212.88 458.02 L215.18 457.76 L217.49 457.51 L219.82 457.26 L222.16 457.01 L224.53 456.77 L226.90 456.53 L229.29 456.30 L231.70 456.07 L234.12 455.84 L236.56 455.62 L239.02 455.40 L241.49 455.19 L243.98 454.98 L246.48 454.77 L249.00 454.57 L251.53 454.37 L254.08 454.17 L256.65 453.98 L259.23 453.78 L261.83 453.60 L264.44 453.41 L267.07 453.23 L269.71 453.05 L272.37 452.88 L275.05 452.70 L277.74 452.53 L280.45 452.36 L283.17 452.20 L285.91 452.04 L288.67 451.88 L291.44 451.72 L294.23 451.56 L297.03 451.41 L299.85 451.26 L302.68 451.11 L305.53 450.97 L308.40 450.82 L311.28 450.68 L314.17 450.54 L317.09 450.40 L320.02 450.27 L322.96 450.13 L325.92 450.00 L328.90 449.87 L331.89 449.75 L334.90 449.62 L337.92 449.50 L340.96 449.37 L344.02 449.25 L347.09 449.13 L350.17 449.02 L353.28 448.90 L356.39 448.79 L359.53 448.68 L362.68 448.56 L365.84 448.46 L369.02 448.35 L372.22 448.24 L375.44 448.14 L378.66 448.03 L381.91 447.93 L385.17 447.83 L388.45 447.73 L391.74 447.63 L395.04 447.54 L398.37 447.44 L401.71 447.35 L405.06 447.25 L408.43 447.16 L411.82 447.07 L415.22 446.98 L418.64 446.90 L422.08 446.81 L425.53 446.72 L428.99 446.64 L432.47 446.55 L435.97 446.47 L439.48 446.39 L443.01 446.31 L446.56 446.23 L450.12 446.15 L453.69 446.07 L457.28 446.00 L460.89 445.92 L464.52 445.85 L468.16 445.77 L471.81 445.70 L475.48 445.63 L479.17 445.56 L482.87 445.49 L486.59 445.42 L490.32 445.35 L494.07 445.28 L497.84 445.21 L501.62 445.15" fill="none" stroke="#383838" stroke-width="1.3"/>
<path d="M46.90 650.20 L46.91 650.18 L46.93 650.13 L46.97 650.04 L47.03 649.91 L47.10 649.75 L47.18 649.56 L47.29 649.33 L47.41 649.06 L47.54 648.76 L47.69 648.43 L47.86 648.06 L48.04 647.66 L48.23 647.23 L48.45 646.77 L48.68 646.28 L48.92 645.76 L49.18 645.21 L49.46 644.63 L49.75 644.02 L50.06 643.39 L50.38 642.73 L50.72 642.04 L51.08 641.34 L51.45 640.61 L51.83 639.85 L52.24 639.08 L52.66 638.28 L53.09 637.47 L53.54 636.64 L54.00 635.79 L54.49 634.93 L54.98 634.05 L55.50 633.15 L56.03 632.25 L56.57 631.33 L57.13 630.40 L57.71 629.45 L58.30 628.50 L58.91 627.54 L59.53 626.57 L60.17 625.60 L60.83 624.62 L61.50 623.63 L62.18 622.64 L62.89 621.65 L63.60 620.65 L64.34 619.65 L65.09 618.64 L65.85 617.64 L66.64 616.64 L67.43 615.63 L68.25 614.63 L69.08 613.63 L69.92 612.63 L70.78 611.63 L71.66 610.63 L72.55 609.64 L73.46 608.66 L74.38 607.67 L75.32 606.69 L76.28 605.72 L77.25 604.75 L78.23 603.79 L79.24 602.83 L80.25 601.88 L81.29 600.94 L82.34 600.00 L83.40 599.07 L84.49 598.15 L85.58 597.23 L86.70 596.33 L87.82 595.43 L88.97 594.54 L90.13 593.65 L91.31 592.78 L92.50 591.91 L93.71 591.05 L94.93 590.20 L96.17 589.36 L97.42 588.53 L98.70 587.71 L99.98 586.89 L101.28 586.09 L102.60 585.29 L103.94 584.50 L105.29 583.73 L106.65 582.96 L108.03 582.20 L109.43 581.44 L110.84 580.70 L112.27 579.97 L113.72 579.24 L115.18 578.53 L116.66 577.82 L118.15 577.12 L119.66 576.43 L121.18 575.75 L122.72 575.08 L124.27 574.41 L125.84 573.76 L127.43 573.11 L129.03 572.47 L130.65 571.84 L132.29 571.22 L133.94 570.61 L135.60 570.00 L137.28 569.40 L138.98 568.82 L140.69 568.23 L142.42 567.66 L144.17 567.09 L145.93 566.53 L147.70 565.98 L149.50 565.44 L151.30 564.90 L153.13 564.37 L154.97 563.85 L156.82 563.34 L158.69 562.83 L160.58 562.33 L162.48 561.83 L164.40 561.34 L166.34 560.86 L168.28 560.39 L170.25 559.92 L172.23 559.46 L174.23 559.00 L176.24 558.55 L178.27 558.11 L180.32 557.67 L182.38 557.24 L184.45 556.82 L186.54 556.40 L188.65 555.98 L190.78 555.57 L192.92 555.17 L195.07 554.77 L197.24 554.38 L199.43 554.00 L201.63 553.62 L203.85 553.24 L206.08 552.87 L208.33 552.50 L210.60 552.14 L212.88 551.78 L215.18 551.43 L217.49 551.09 L219.82 550.74 L222.16 550.41 L224.53 550.07 L226.90 549.74 L229.29 549.42 L231.70 549.10 L234.12 548.78 L236.56 548.47 L239.02 548.16 L241.49 547.86 L243.98 547.56 L246.48 547.27 L249.00 546.97 L251.53 546.69 L254.08 546.40 L256.65 546.12 L259.23 545.84 L261.83 545.57 L264.44 545.30 L267.07 545.04 L269.71 544.77 L272.37 544.51 L275.05 544.26 L277.74 544.00 L280.45 543.75 L283.17 543.51 L285.91 543.26 L288.67 543.02 L291.44 542.79 L294.23 542.55 L297.03 542.32 L299.85 542.09 L302.68 541.87 L305.53 541.64 L308.40 541.42 L311.28 541.21 L314.17 540.99 L317.09 540.78 L320.02 540.57 L322.96 540.36 L325.92 540.16 L328.90 539.96 L331.89 539.76 L334.90 539.56 L337.92 539.37 L340.96 539.17 L344.02 538.98 L347.09 538.80 L350.17 538.61 L353.28 538.43 L356.39 538.25 L359.53 538.07 L362.68 537.89 L365.84 537.72 L369.02 537.55 L372.22 537.37 L375.44 537.21 L378.66 537.04 L381.91 536.87 L385.17 536.71 L388.45 536.55 L391.74 536.39 L395.04 536.24 L398.37 536.08 L401.71 535.93 L405.06 535.77 L408.43 535.62 L411.82 535.48 L415.22 535.33 L418.64 535.18 L422.08 535.04 L425.53 534.90 L428.99 534.76 L432.47 534.62 L435.97 534.48 L439.48 534.35 L443.01 534.21 L446.56 534.08 L450.12 533.95 L453.69 533.82 L457.28 533.69 L460.89 533.56 L464.52 533.44 L468.16 533.31 L471.81 533.19 L475.48 533.07 L479.17 532.95 L482.87 532.83 L486.59 532.71 L490.32 532.60 L494.07 532.48 L497.84 532.37 L501.62 532.26" fill="none" stroke="#8f8f8f" stroke-width="1.1"/>
<path d="M46.90 650.20 L46.91 650.18 L46.93 650.11 L46.97 649.99 L47.03 649.83 L47.10 649.62 L47.18 649.37 L47.29 649.07 L47.41 648.73 L47.54 648.35 L47.69 647.93 L47.86 647.46 L48.04 646.96 L48.23 646.41 L48.45 645.83 L48.68 645.21 L48.92 644.56 L49.18 643.88 L49.46 643.16 L49.75 642.41 L50.06 641.64 L50.38 640.83 L50.72 640.01 L51.08 639.15 L51.45 638.28 L51.83 637.38 L52.24 636.47 L52.66 635.54 L53.09 634.59 L53.54 633.62 L54.00 632.65 L54.49 631.66 L54.98 630.66 L55.50 629.65 L56.03 628.63 L56.57 627.61 L57.13 626.58 L57.71 625.55 L58.30 624.52 L58.91 623.48 L59.53 622.44 L60.17 621.41 L60.83 620.37 L61.50 619.34 L62.18 618.31 L62.89 617.28 L63.60 616.26 L64.34 615.24 L65.09 614.23 L65.85 613.22 L66.64 612.23 L67.43 611.24 L68.25 610.26 L69.08 609.28 L69.92 608.32 L70.78 607.36 L71.66 606.42 L72.55 605.48 L73.46 604.56 L74.38 603.64 L75.32 602.74 L76.28 601.85 L77.25 600.96 L78.23 600.09 L79.24 599.23 L80.25 598.39 L81.29 597.55 L82.34 596.73 L83.40 595.91 L84.49 595.11 L85.58 594.32 L86.70 593.54 L87.82 592.78 L88.97 592.02 L90.13 591.28 L91.31 590.54 L92.50 589.82 L93.71 589.11 L94.93 588.42 L96.17 587.73 L97.42 587.05 L98.70 586.39 L99.98 585.73 L101.28 585.09 L102.60 584.45 L103.94 583.83 L105.29 583.22 L106.65 582.61 L108.03 582.02 L109.43 581.44 L110.84 580.87 L112.27 580.30 L113.72 579.75 L115.18 579.21 L116.66 578.67 L118.15 578.14 L119.66 577.63 L121.18 577.12 L122.72 576.62 L124.27 576.13 L125.84 575.64 L127.43 575.17 L129.03 574.70 L130.65 574.24 L132.29 573.79 L133.94 573.35 L135.60 572.91 L137.28 572.49 L138.98 572.06 L140.69 571.65 L142.42 571.24 L144.17 570.84 L145.93 570.45 L147.70 570.06 L149.50 569.68 L151.30 569.31 L153.13 568.94 L154.97 568.58 L156.82 568.23 L158.69 567.88 L160.58 567.53 L162.48 567.19 L164.40 566.86 L166.34 566.54 L168.28 566.21 L170.25 565.90 L172.23 565.59 L174.23 565.28 L176.24 564.98 L178.27 564.68 L180.32 564.39 L182.38 564.11 L184.45 563.83 L186.54 563.55 L188.65 563.28 L190.78 563.01 L192.92 562.74 L195.07 562.48 L197.24 562.23 L199.43 561.98 L201.63 561.73 L203.85 561.48 L206.08 561.24 L208.33 561.01 L210.60 560.78 L212.88 560.55 L215.18 560.32 L217.49 560.10 L219.82 559.88 L222.16 559.67 L224.53 559.45 L226.90 559.25 L229.29 559.04 L231.70 558.84 L234.12 558.64 L236.56 558.44 L239.02 558.25 L241.49 558.06 L243.98 557.87 L246.48 557.69 L249.00 557.50 L251.53 557.33 L254.08 557.15 L256.65 556.97 L259.23 556.80 L261.83 556.63 L264.44 556.47 L267.07 556.30 L269.71 556.14 L272.37 555.98 L275.05 555.82 L277.74 555.67 L280.45 555.52 L283.17 555.37 L285.91 555.22 L288.67 555.07 L291.44 554.93 L294.23 554.78 L297.03 554.64 L299.85 554.50 L302.68 554.37 L305.53 554.23 L308.40 554.10 L311.28 553.97 L314.17 553.84 L317.09 553.71 L320.02 553.59 L322.96 553.46 L325.92 553.34 L328.90 553.22 L331.89 553.10 L334.90 552.98 L337.92 552.87 L340.96 552.75 L344.02 552.64 L347.09 552.53 L350.17 552.42 L353.28 552.31 L356.39 552.20 L359.53 552.10 L362.68 551.99 L365.84 551.89 L369.02 551.79 L372.22 551.68 L375.44 551.59 L378.66 551.49 L381.91 551.39 L385.17 551.30 L388.45 551.20 L391.74 551.11 L395.04 551.02 L398.37 550.92 L401.71 550.83 L405.06 550.75 L408.43 550.66 L411.82 550.57 L415.22 550.49 L418.64 550.40 L422.08 550.32 L425.53 550.24 L428.99 550.15 L432.47 550.07 L435.97 549.99 L439.48 549.92 L443.01 549.84 L446.56 549.76 L450.12 549.69 L453.69 549.61 L457.28 549.54 L460.89 549.46 L464.52 549.39 L468.16 549.32 L471.81 549.25 L475.48 549.18 L479.17 549.11 L482.87 549.04 L486.59 548.97 L490.32 548.91 L494.07 548.84 L497.84 548.78 L501.62 548.71" fill="none" stroke="#383838" stroke-width="1.3"/>
</g>
<text x="1.8" y="376.6" font-size="22.6" text-anchor="start" font-weight="bold" textLength="16.8" lengthAdjust="spacingAndGlyphs">B</text>
<ellipse cx="46.90" cy="648.80" rx="4.60" ry="4.90" fill="#0a0a0a"/>
<ellipse cx="53.90" cy="634.60" rx="4.60" ry="4.90" fill="#0a0a0a"/>
<ellipse cx="61.00" cy="630.00" rx="4.60" ry="4.90" fill="#0a0a0a"/>
<ellipse cx="75.30" cy="609.70" rx="4.60" ry="4.90" fill="#0a0a0a"/>
<ellipse cx="103.80" cy="582.50" rx="4.60" ry="4.90" fill="#0a0a0a"/>
<ellipse cx="161.00" cy="556.20" rx="4.60" ry="4.90" fill="#0a0a0a"/>
<ellipse cx="274.40" cy="545.40" rx="4.60" ry="4.90" fill="#0a0a0a"/>
<ellipse cx="502.00" cy="535.70" rx="4.60" ry="4.90" fill="#0a0a0a"/>
<path d="M53.40 627.15 L58.20 631.80 L53.40 636.45 L48.60 631.80 Z" fill="#0a0a0a"/>
<path d="M61.00 617.85 L65.80 622.50 L61.00 627.15 L56.20 622.50 Z" fill="#0a0a0a"/>
<path d="M75.40 601.55 L80.20 606.20 L75.40 610.85 L70.60 606.20 Z" fill="#0a0a0a"/>
<path d="M104.20 574.15 L109.00 578.80 L104.20 583.45 L99.40 578.80 Z" fill="#0a0a0a"/>
<path d="M161.00 555.35 L165.80 560.00 L161.00 564.65 L156.20 560.00 Z" fill="#0a0a0a"/>
<path d="M274.40 556.75 L279.20 561.40 L274.40 566.05 L269.60 561.40 Z" fill="#0a0a0a"/>
<path d="M502.00 573.35 L506.80 578.00 L502.00 582.65 L497.20 578.00 Z" fill="#0a0a0a"/>
<ellipse cx="54.60" cy="590.00" rx="4.50" ry="4.40" fill="none" stroke="#2a2a2a" stroke-width="1.1"/>
<ellipse cx="61.80" cy="566.80" rx="4.50" ry="4.40" fill="none" stroke="#2a2a2a" stroke-width="1.1"/>
<ellipse cx="76.50" cy="521.10" rx="4.50" ry="4.40" fill="none" stroke="#2a2a2a" stroke-width="1.1"/>
<ellipse cx="104.30" cy="459.00" rx="4.50" ry="4.40" fill="none" stroke="#2a2a2a" stroke-width="1.1"/>
<ellipse cx="275.00" cy="458.80" rx="4.50" ry="4.40" fill="none" stroke="#2a2a2a" stroke-width="1.1"/>
<ellipse cx="502.60" cy="456.50" rx="4.50" ry="4.40" fill="none" stroke="#2a2a2a" stroke-width="1.1"/>
<path d="M54.90 592.70 L54.90 601.70" stroke="#5a5a5a" stroke-width="0.9" fill="none"/>
<path d="M50.40 592.70 L59.40 601.70 M50.40 601.70 L59.40 592.70" stroke="#1a1a1a" stroke-width="1.1" fill="none"/>
<path d="M62.40 563.10 L62.40 572.10" stroke="#5a5a5a" stroke-width="0.9" fill="none"/>
<path d="M57.90 563.10 L66.90 572.10 M57.90 572.10 L66.90 563.10" stroke="#1a1a1a" stroke-width="1.1" fill="none"/>
<path d="M76.50 517.50 L76.50 526.50" stroke="#5a5a5a" stroke-width="0.9" fill="none"/>
<path d="M72.00 517.50 L81.00 526.50 M72.00 526.50 L81.00 517.50" stroke="#1a1a1a" stroke-width="1.1" fill="none"/>
<path d="M104.30 492.50 L104.30 501.50" stroke="#5a5a5a" stroke-width="0.9" fill="none"/>
<path d="M99.80 492.50 L108.80 501.50 M99.80 501.50 L108.80 492.50" stroke="#1a1a1a" stroke-width="1.1" fill="none"/>
<path d="M161.40 446.20 L161.40 455.20" stroke="#5a5a5a" stroke-width="0.9" fill="none"/>
<path d="M156.90 446.20 L165.90 455.20 M156.90 455.20 L165.90 446.20" stroke="#1a1a1a" stroke-width="1.1" fill="none"/>
<path d="M275.20 415.10 L275.20 424.10" stroke="#5a5a5a" stroke-width="0.9" fill="none"/>
<path d="M270.70 415.10 L279.70 424.10 M270.70 424.10 L279.70 415.10" stroke="#1a1a1a" stroke-width="1.1" fill="none"/>
<path d="M502.90 409.10 L502.90 418.10" stroke="#5a5a5a" stroke-width="0.9" fill="none"/>
<path d="M498.40 409.10 L507.40 418.10 M498.40 418.10 L507.40 409.10" stroke="#1a1a1a" stroke-width="1.1" fill="none"/>
</svg>
</body></html>
